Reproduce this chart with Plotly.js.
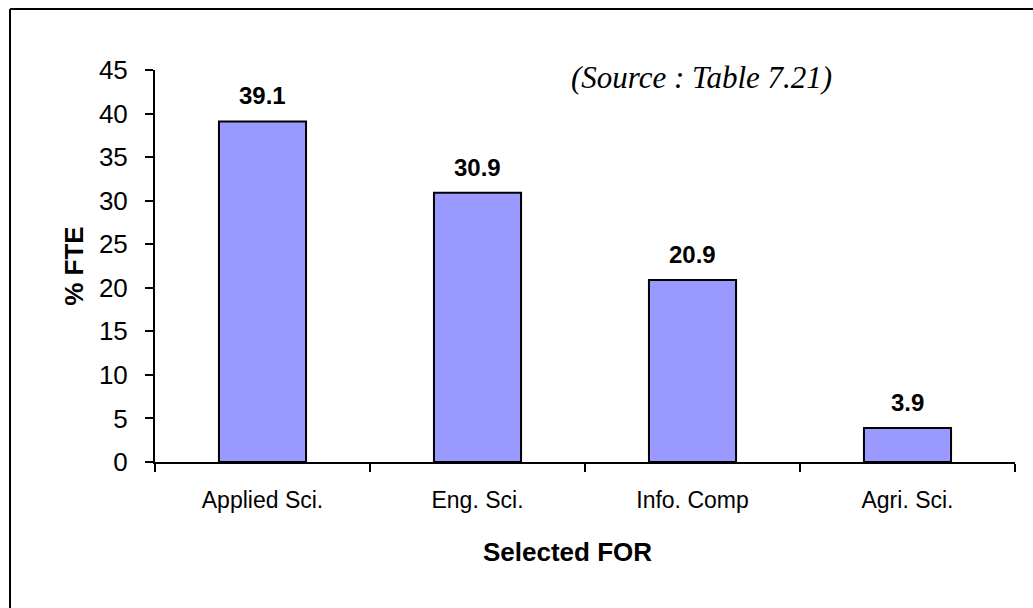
<!DOCTYPE html>
<html>
<head>
<meta charset="utf-8">
<script src="https://cdn.plot.ly/plotly-3.0.1.min.js"></script>
<style>
html,body{margin:0;padding:0;background:#fff;}
#chart{width:1033px;height:608px;}
</style>
</head>
<body>
<div id="chart"></div>
<script>
var categories = ["Applied Sci.", "Eng. Sci.", "Info. Comp", "Agri. Sci."];
var values = [39.1, 30.9, 20.9, 3.9];
var yTicks = [0, 5, 10, 15, 20, 25, 30, 35, 40, 45];

var trace = {
  type: "bar",
  x: categories,
  y: values,
  marker: {color: "#9999FF", line: {color: "#000000", width: 2}},
  hoverinfo: "skip"
};

var annotations = categories.map(function(c, i) {
  return {
    x: c, y: values[i], xref: "x", yref: "y",
    text: "<b>" + values[i].toFixed(1) + "</b>",
    showarrow: false, yanchor: "bottom", yshift: 10,
    font: {family: "Liberation Sans, Arial", size: 24, color: "#000"}
  };
});
annotations.push({
  xref: "paper", yref: "paper", x: 0.636, y: 0.982,
  xanchor: "center", yanchor: "middle", showarrow: false,
  text: "<i>(Source : Table 7.21)</i>",
  font: {family: "Liberation Serif, Times New Roman", size: 31, color: "#000"}
});
annotations.push({
  xref: "paper", yref: "paper", x: 0.480, y: -0.2296,
  xanchor: "center", yanchor: "middle", showarrow: false,
  text: "<b>Selected FOR</b>",
  font: {family: "Liberation Sans, Arial", size: 26, color: "#000"}
});

var layout = {
  width: 1033, height: 608,
  margin: {l: 155, r: 18, t: 70, b: 146, pad: 0},
  paper_bgcolor: "#ffffff", plot_bgcolor: "#ffffff",
  showlegend: false,
  bargap: 0.595,
  font: {family: "Liberation Sans, Arial", color: "#000"},
  xaxis: {
    type: "category",
    showline: true, linecolor: "#000", linewidth: 2,
    ticks: "outside", tickson: "boundaries", ticklen: 8, tickwidth: 2, tickcolor: "#000",
    ticklabelstandoff: 16,
    showgrid: false, zeroline: false,
    tickfont: {size: 23, family: "Liberation Sans, Arial", color: "#000"}
  },
  yaxis: {
    range: [0, 45], tickvals: yTicks,
    showline: true, linecolor: "#000", linewidth: 2,
    ticks: "outside", ticklen: 8, tickwidth: 2, tickcolor: "#000",
    ticklabelstandoff: 12,
    showgrid: false, zeroline: false,
    tickfont: {size: 26, family: "Liberation Sans, Arial", color: "#000"},
    title: {text: "<b>% FTE</b>", font: {size: 26, family: "Liberation Sans, Arial", color: "#000"}, standoff: 8}
  },
  shapes: [
    {type: "line", xref: "paper", yref: "paper", x0: -0.1686, x1: -0.1686, y0: -0.4, y1: 1.1556, line: {color: "#000", width: 2}},
    {type: "line", xref: "paper", yref: "paper", x0: -0.1686, x1: 1.05, y0: 1.1556, y1: 1.1556, line: {color: "#000", width: 2}}
  ],
  annotations: annotations
};

Plotly.newPlot("chart", [trace], layout, {displayModeBar: false, staticPlot: true});
</script>
</body>
</html>
